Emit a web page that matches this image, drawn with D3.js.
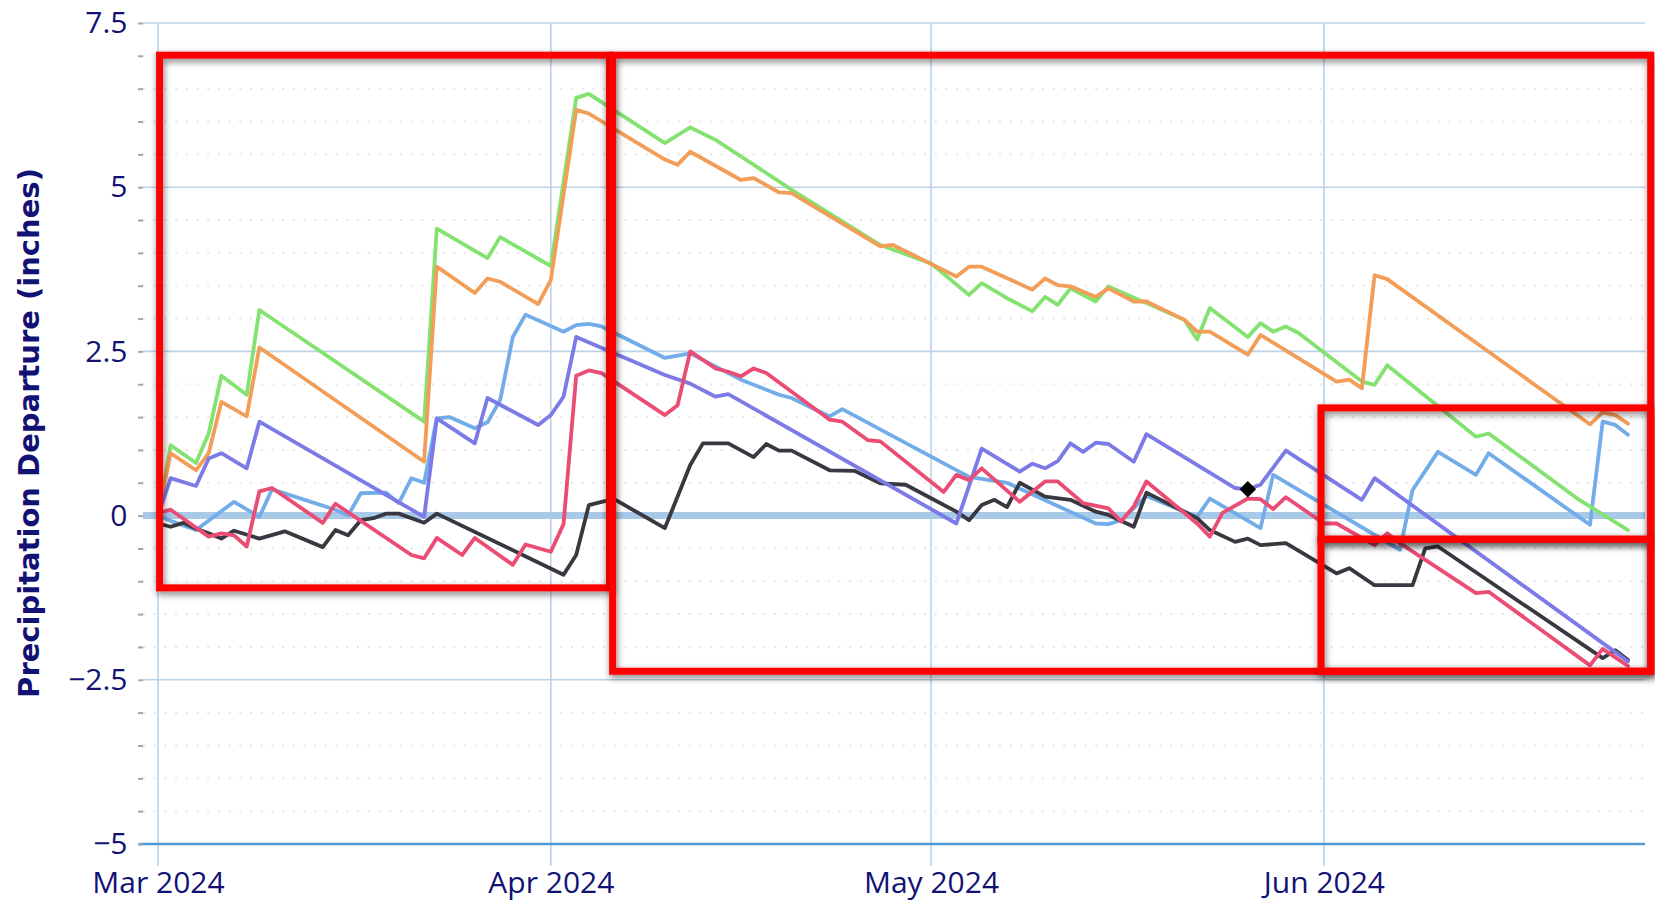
<!DOCTYPE html>
<html>
<head>
<meta charset="utf-8">
<script src="https://cdn.jsdelivr.net/npm/d3@7"></script>
<style>
  html, body { margin: 0; padding: 0; background: #ffffff; }
  svg { display: block; }
</style>
</head>
<body>
<svg id="chart" width="1655" height="901"></svg>
<script>
// ---------------- DATA (vertices) ----------------
const xTickDates = ["03-01", "04-01", "05-01", "06-01"];
const yMajorTicks = [-5, -2.5, 0, 2.5, 5, 7.5];
const yMinorTicks = [-4.5, -4, -3.5, -3, -2, -1.5, -1, -0.5, 0.5, 1, 1.5, 2, 3, 3.5, 4, 4.5, 5.5, 6, 6.5, 7];
const yGridTicks = [-2.5, 2.5, 5, 7.5];

const seriesLightBlue = [["03-01",0.00],["03-02",-0.08],["03-04",-0.22],["03-07",0.21],["03-09",-0.02],["03-10",0.40],["03-15",0.09],["03-16",0.00],["03-17",0.34],["03-19",0.35],["03-20",0.19],["03-21",0.57],["03-22",0.50],["03-23",1.48],["03-24",1.50],["03-26",1.33],["03-27",1.42],["03-28",1.76],["03-29",2.72],["03-30",3.06],["04-02",2.80],["04-03",2.90],["04-04",2.92],["04-05",2.88],["04-10",2.40],["04-12",2.47],["04-16",2.07],["04-19",1.84],["04-20",1.79],["04-23",1.51],["04-24",1.62],["05-04",0.59],["05-07",0.50],["05-14",-0.12],["05-15",-0.13],["05-16",-0.07],["05-18",0.30],["05-22",-0.02],["05-23",0.26],["05-27",-0.19],["05-28",0.62],["06-07",-0.52],["06-08",0.39],["06-10",0.97],["06-13",0.62],["06-14",0.95],["06-22",-0.14],["06-23",1.43],["06-24",1.38],["06-25",1.23]];

const seriesBlack = [["03-01",-0.12],["03-02",-0.17],["03-03",-0.11],["03-04",-0.20],["03-05",-0.27],["03-06",-0.35],["03-07",-0.23],["03-09",-0.35],["03-11",-0.24],["03-14",-0.48],["03-15",-0.22],["03-16",-0.30],["03-17",-0.07],["03-18",-0.04],["03-19",0.03],["03-20",0.03],["03-22",-0.11],["03-23",0.03],["04-02",-0.90],["04-03",-0.60],["04-04",0.16],["04-05",0.21],["04-06",0.25],["04-10",-0.19],["04-12",0.77],["04-13",1.10],["04-15",1.10],["04-17",0.89],["04-18",1.09],["04-19",0.99],["04-20",0.99],["04-23",0.69],["04-25",0.68],["04-27",0.49],["04-29",0.47],["05-03",0.06],["05-04",-0.07],["05-05",0.16],["05-06",0.24],["05-07",0.13],["05-08",0.50],["05-10",0.29],["05-12",0.24],["05-14",0.06],["05-15",0.01],["05-17",-0.17],["05-18",0.35],["05-22",-0.04],["05-23",-0.22],["05-25",-0.40],["05-26",-0.35],["05-27",-0.45],["05-29",-0.42],["06-02",-0.88],["06-03",-0.80],["06-05",-1.06],["06-08",-1.06],["06-09",-0.50],["06-10",-0.47],["06-23",-2.17],["06-24",-2.05],["06-25",-2.20]];

const seriesGreen = [["03-01",0.00],["03-02",1.07],["03-04",0.80],["03-05",1.25],["03-06",2.13],["03-08",1.84],["03-09",3.13],["03-22",1.43],["03-23",4.37],["03-27",3.92],["03-28",4.24],["04-01",3.80],["04-03",6.36],["04-04",6.42],["04-10",5.67],["04-12",5.91],["04-14",5.72],["04-19",5.09],["04-20",4.96],["04-27",4.12],["05-01",3.84],["05-04",3.36],["05-05",3.54],["05-07",3.31],["05-09",3.11],["05-10",3.33],["05-11",3.21],["05-12",3.46],["05-14",3.26],["05-15",3.49],["05-21",2.98],["05-22",2.68],["05-23",3.16],["05-26",2.72],["05-27",2.93],["05-28",2.80],["05-29",2.88],["05-30",2.78],["06-04",2.04],["06-05",1.99],["06-06",2.29],["06-13",1.20],["06-14",1.25],["06-21",0.26],["06-25",-0.22]];

const seriesOrange = [["03-01",0.00],["03-02",0.95],["03-04",0.69],["03-05",0.95],["03-06",1.73],["03-08",1.51],["03-09",2.56],["03-22",0.82],["03-23",3.79],["03-26",3.39],["03-27",3.61],["03-28",3.56],["03-31",3.22],["04-01",3.59],["04-03",6.18],["04-04",6.12],["04-10",5.42],["04-11",5.34],["04-12",5.54],["04-16",5.11],["04-17",5.14],["04-19",4.92],["04-20",4.91],["04-27",4.10],["04-28",4.12],["05-03",3.64],["05-04",3.79],["05-05",3.79],["05-09",3.44],["05-10",3.61],["05-11",3.51],["05-12",3.49],["05-14",3.33],["05-15",3.46],["05-17",3.26],["05-18",3.26],["05-21",2.98],["05-22",2.80],["05-23",2.80],["05-26",2.45],["05-27",2.75],["06-02",2.04],["06-03",2.07],["06-04",1.94],["06-05",3.66],["06-06",3.60],["06-22",1.39],["06-23",1.57],["06-24",1.53],["06-25",1.40]];

const seriesPurple = [["03-01",0.00],["03-02",0.57],["03-04",0.45],["03-05",0.87],["03-06",0.95],["03-08",0.72],["03-09",1.43],["03-22",-0.02],["03-23",1.48],["03-26",1.10],["03-27",1.79],["03-31",1.38],["04-01",1.53],["04-02",1.81],["04-03",2.72],["04-10",2.14],["04-12",2.01],["04-14",1.81],["04-15",1.85],["05-03",-0.12],["05-05",1.02],["05-08",0.67],["05-09",0.79],["05-10",0.72],["05-11",0.83],["05-12",1.10],["05-13",0.97],["05-14",1.11],["05-15",1.09],["05-17",0.82],["05-18",1.24],["05-25",0.42],["05-26",0.40],["05-27",0.47],["05-29",0.99],["06-04",0.24],["06-05",0.57],["06-25",-2.22]];

const seriesPink = [["03-01",0.04],["03-02",0.09],["03-05",-0.32],["03-06",-0.27],["03-07",-0.30],["03-08",-0.47],["03-09",0.37],["03-10",0.42],["03-14",-0.11],["03-15",0.18],["03-21",-0.60],["03-22",-0.65],["03-23",-0.34],["03-25",-0.60],["03-26",-0.34],["03-29",-0.75],["03-30",-0.44],["04-01",-0.55],["04-02",-0.13],["04-03",2.13],["04-04",2.21],["04-05",2.17],["04-10",1.53],["04-11",1.68],["04-12",2.50],["04-14",2.24],["04-15",2.19],["04-16",2.12],["04-17",2.24],["04-18",2.17],["04-23",1.46],["04-24",1.43],["04-26",1.15],["04-27",1.13],["05-02",0.36],["05-03",0.62],["05-04",0.54],["05-05",0.72],["05-08",0.21],["05-10",0.52],["05-11",0.52],["05-13",0.19],["05-15",0.11],["05-16",-0.09],["05-17",0.14],["05-18",0.52],["05-22",-0.12],["05-23",-0.32],["05-24",0.04],["05-26",0.26],["05-27",0.25],["05-28",0.10],["05-29",0.28],["06-01",-0.12],["06-02",-0.12],["06-05",-0.45],["06-06",-0.27],["06-07",-0.42],["06-13",-1.18],["06-14",-1.16],["06-22",-2.28],["06-23",-2.03],["06-25",-2.29]];

const seriesColors = ["#72ace9", "#383840", "#84e271", "#f29d58", "#7b7ae6", "#ea4c74"];
const seriesList = [seriesLightBlue, seriesBlack, seriesGreen, seriesOrange, seriesPurple, seriesPink];

const markerPoint = ["05-26", 0.40];

// annotation rectangles, in data units: [start, end, top value, bottom value]
const boxStarts  = ["03-01 03:00", "04-05 21:00", "05-31 18:30", "05-31 18:30"];
const boxEnds    = ["04-05 15:00", "06-26 19:00", "06-26 19:00", "06-26 19:00"];
const boxTops    = [7.01, 7.01, 1.64, -0.36];
const boxBottoms = [-1.10, -2.37, -0.36, -2.37];

const yTitle = "Precipitation Departure (inches)";

// ---------------- LAYOUT ----------------
const W = 1655, H = 901;
const PLOT_LEFT = 143, PLOT_RIGHT = 1645;
const TICK_BOTTOM = 866;
const textColor = "#121275";

const parseDay = s => d3.timeParse("%Y-%m-%d")("2024-" + s);
const parseDT = s => d3.timeParse("%Y-%m-%d %H:%M")("2024-" + s);

const x = d3.scaleTime().domain([parseDay("03-01"), parseDay("06-25")]).range([158, 1628]);
const y = d3.scaleLinear().domain([-5, 7.5]).range([844, 23]);

const svg = d3.select("#chart");
svg.append("rect").attr("width", W).attr("height", H).attr("fill", "#ffffff");

const defs = svg.append("defs");
defs.append("filter").attr("id", "shadow")
  .attr("filterUnits", "userSpaceOnUse").attr("x", 0).attr("y", 0).attr("width", W).attr("height", H)
  .append("feDropShadow").attr("dx", 1).attr("dy", 3).attr("stdDeviation", 3.5)
  .attr("flood-color", "#000").attr("flood-opacity", 0.5);

// minor dotted gridlines
svg.append("g").selectAll("line").data(yMinorTicks).join("line")
  .attr("x1", PLOT_LEFT).attr("x2", PLOT_RIGHT)
  .attr("y1", d => y(d)).attr("y2", d => y(d))
  .attr("stroke", "#e6e6e6").attr("stroke-width", 2).attr("stroke-dasharray", "2,8.7");

// major horizontal gridlines
svg.append("g").selectAll("line").data(yGridTicks).join("line")
  .attr("x1", PLOT_LEFT).attr("x2", PLOT_RIGHT)
  .attr("y1", d => y(d)).attr("y2", d => y(d))
  .attr("stroke", "#bcd3e8").attr("stroke-width", 1.6);

// vertical month gridlines (extend below axis as ticks)
svg.append("g").selectAll("line").data(xTickDates).join("line")
  .attr("x1", d => x(parseDay(d))).attr("x2", d => x(parseDay(d)))
  .attr("y1", y(7.5)).attr("y2", TICK_BOTTOM)
  .attr("stroke", "#bcd3e8").attr("stroke-width", 1.6);

// zero band
svg.append("line")
  .attr("x1", PLOT_LEFT).attr("x2", PLOT_RIGHT).attr("y1", y(0)).attr("y2", y(0))
  .attr("stroke", "#a9c9e8").attr("stroke-width", 7);

// x axis line
svg.append("line")
  .attr("x1", PLOT_LEFT - 4).attr("x2", PLOT_RIGHT).attr("y1", y(-5)).attr("y2", y(-5))
  .attr("stroke", "#4d9ad6").attr("stroke-width", 2.6);

// y axis (major ticks + labels)
const fmtY = v => (v < 0 ? "\u2212" + Math.abs(v) : String(v));
const yAxisG = svg.append("g").attr("transform", `translate(${PLOT_LEFT},0)`)
  .call(d3.axisLeft(y).tickValues(yMajorTicks).tickSize(5).tickPadding(10.5).tickFormat(fmtY));
yAxisG.select(".domain").remove();
yAxisG.selectAll(".tick line").attr("stroke", "#a6a6a6").attr("stroke-width", 2);
yAxisG.selectAll(".tick text")
  .attr("fill", textColor).style("font-family", "'Open Sans', sans-serif").style("font-size", "30px");

// minor y ticks
const yMinorG = svg.append("g").attr("transform", `translate(${PLOT_LEFT},0)`)
  .call(d3.axisLeft(y).tickValues(yMinorTicks).tickSize(5).tickFormat(""));
yMinorG.select(".domain").remove();
yMinorG.selectAll(".tick line").attr("stroke", "#a6a6a6").attr("stroke-width", 2);

// x axis labels
const xAxisG = svg.append("g").attr("transform", `translate(0,${y(-5)})`)
  .call(d3.axisBottom(x).tickValues(xTickDates.map(parseDay)).tickSize(0).tickPadding(28)
    .tickFormat(d3.timeFormat("%b %Y")));
xAxisG.select(".domain").remove();
xAxisG.selectAll(".tick text")
  .attr("fill", textColor).style("font-family", "'Open Sans', sans-serif").style("font-size", "30px");

// y axis title
svg.append("text")
  .attr("transform", `translate(39,${433}) rotate(-90)`)
  .attr("text-anchor", "middle")
  .attr("fill", textColor)
  .style("font-family", "'DejaVu Sans', sans-serif").style("font-weight", "bold").style("font-size", "29px")
  .text(yTitle);

// series lines
const line = d3.line().x(d => x(parseDay(d[0]))).y(d => y(d[1]));
svg.append("g").selectAll("path").data(seriesList).join("path")
  .attr("d", d => line(d))
  .attr("fill", "none")
  .attr("stroke", (d, i) => seriesColors[i])
  .attr("stroke-width", 3.8)
  .attr("stroke-linejoin", "round").attr("stroke-linecap", "round");

// diamond marker
svg.append("path")
  .attr("d", d3.symbol(d3.symbolSquare, 135)())
  .attr("transform", `translate(${x(parseDay(markerPoint[0]))},${y(markerPoint[1])}) rotate(45)`)
  .attr("fill", "#000");

// annotation rectangles
const boxes = boxStarts.map((s, i) => ({ s: parseDT(s), e: parseDT(boxEnds[i]), t: boxTops[i], b: boxBottoms[i] }));
svg.append("g").selectAll("rect").data(boxes).join("rect")
  .attr("x", d => x(d.s)).attr("y", d => y(d.t))
  .attr("width", d => x(d.e) - x(d.s)).attr("height", d => y(d.b) - y(d.t))
  .attr("fill", "none").attr("stroke", "#ff0000").attr("stroke-width", 7)
  .attr("filter", "url(#shadow)");
</script>
</body>
</html>
